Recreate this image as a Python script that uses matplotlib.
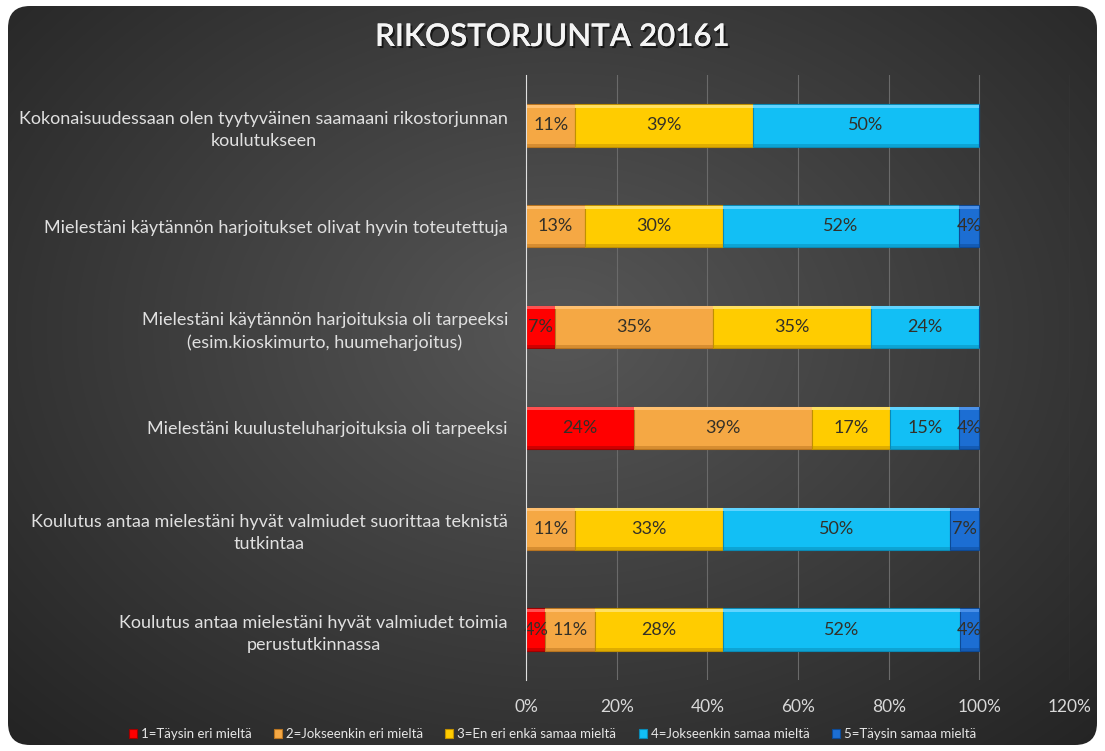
import numpy as np
import matplotlib.pyplot as plt
from matplotlib.patches import FancyBboxPatch
import matplotlib.patheffects as pe

plt.rcParams['font.family'] = ['Lato', 'DejaVu Sans']

# Questions (top to bottom)
questions = [
    "Kokonaisuudessaan olen tyytyväinen saamaani rikostorjunnan\nkoulutukseen",
    "Mielestäni käytännön harjoitukset olivat hyvin toteutettuja",
    "Mielestäni käytännön harjoituksia oli tarpeeksi\n(esim.kioskimurto, huumeharjoitus)",
    "Mielestäni kuulusteluharjoituksia oli tarpeeksi",
    "Koulutus antaa mielestäni hyvät valmiudet suorittaa teknistä\ntutkintaa",
    "Koulutus antaa mielestäni hyvät valmiudet toimia\nperustutkinnassa",
]

series_names = ["1=Täysin eri mieltä", "2=Jokseenkin eri mieltä",
                "3=En eri enkä samaa mieltä", "4=Jokseenkin samaa mieltä",
                "5=Täysin samaa mieltä"]

# shares in percent, per answer option
s1 = [0.0, 0.0, 6.5, 23.9, 0.0, 4.3]
s2 = [10.9, 13.0, 34.8, 39.1, 10.9, 10.9]
s3 = [39.1, 30.4, 34.8, 17.4, 32.6, 28.3]
s4 = [50.0, 52.2, 23.9, 15.2, 50.0, 52.2]
s5 = [0.0, 4.3, 0.0, 4.3, 6.5, 4.3]
series = [s1, s2, s3, s4, s5]

colors = ["#ff0000", "#f5a844", "#ffcc00", "#12bff5", "#1c6ed3"]
lights = ["#ff5050", "#ffc070", "#ffe060", "#60d4ff", "#4a90e8"]
edges = ["#a00000", "#b87420", "#c09000", "#0a8ab5", "#0d4a96"]

W, H = 1105, 751
fig = plt.figure(figsize=(W / 100, H / 100), dpi=100)
fig.patch.set_facecolor("white")

# background with rounded corners and radial gradient
bg = fig.add_axes([0, 0, 1, 1])
bg.set_xlim(0, W)
bg.set_ylim(H, 0)
bg.axis("off")
yy, xx = np.mgrid[0:H, 0:W]
d = np.sqrt(((xx - 560) / 700.0) ** 2 + ((yy - 330) / 520.0) ** 2)
g = np.clip(0.34 - 0.18 * d, 0.12, 0.4)
img = bg.imshow(np.dstack([g, g, g]), extent=[0, W, H, 0], zorder=0)
box = FancyBboxPatch((8, 6), W - 16, H - 12, boxstyle="round,pad=0,rounding_size=22",
                     facecolor="none", edgecolor="none", transform=bg.transData)
bg.add_patch(box)
img.set_clip_path(box)

fig.text(0.5, 1 - 37 / H, "RIKOSTORJUNTA 20161", ha="center", va="center",
         fontsize=22.5, fontweight="semibold", color="#f4f4f4",
         path_effects=[pe.withSimplePatchShadow(offset=(1.5, -1.5), shadow_rgbFace="black", alpha=0.6),
                       pe.Normal()])

ax = fig.add_axes([526 / W, 1 - 680 / H, 544 / W, 605 / H])
ax.patch.set_alpha(0)
y = np.arange(len(questions))
bh = 0.42
left = np.zeros(len(questions))
for vals, c, lc, ec, name in zip(series, colors, lights, edges, series_names):
    vals = np.array(vals)
    bars = ax.barh(y, vals / 100, left=left, height=bh, color=c, edgecolor=ec,
                   linewidth=0.8, label=name, zorder=3)
    # bevel: light strip on top, dark strip at bottom
    ax.barh(y - bh / 2 + 0.02, vals / 100, left=left, height=0.03, color=lc,
            linewidth=0, zorder=3.5)
    ax.barh(y + bh / 2 - 0.015, vals / 100, left=left, height=0.03, color=ec,
            alpha=0.5, linewidth=0, zorder=3.5)
    for b, v in zip(bars, vals):
        if v > 0:
            ax.text(b.get_x() + b.get_width() / 2, b.get_y() + b.get_height() / 2,
                    f"{int(v + 0.5)}%", ha="center", va="center", fontsize=13,
                    color="#333028", zorder=4)
    left = left + vals / 100

ax.set_xlim(0, 1.2)
ax.set_ylim(5.5, -0.5)
ax.set_xticks(np.arange(0, 1.21, 0.2))
ax.set_xticklabels([f"{t}%" for t in range(0, 121, 20)])
ax.xaxis.grid(True, color="#6a6a6a", linewidth=0.8, zorder=0)
ax.set_yticks(y)
ax.set_yticklabels(questions, multialignment="center", linespacing=1.45)
ax.tick_params(axis="y", length=0, pad=13, labelsize=13, labelcolor="#e0e0e0")
ax.tick_params(axis="x", length=0, pad=14, labelsize=12.5, labelcolor="#d8d8d8")
for s in ["top", "right", "bottom"]:
    ax.spines[s].set_visible(False)
ax.spines["left"].set_color("#e0e0e0")
ax.spines["left"].set_linewidth(0.8)
ax.spines["left"].set_zorder(5)

leg = fig.legend(loc="center", bbox_to_anchor=(0.5, 1 - 734 / H), ncol=5, frameon=False,
                 fontsize=9.5, labelcolor="#e6e6e6", handlelength=0.6, handleheight=0.6,
                 handletextpad=0.3, columnspacing=1.7)

fig.savefig("out.png", dpi=100, facecolor="white")
